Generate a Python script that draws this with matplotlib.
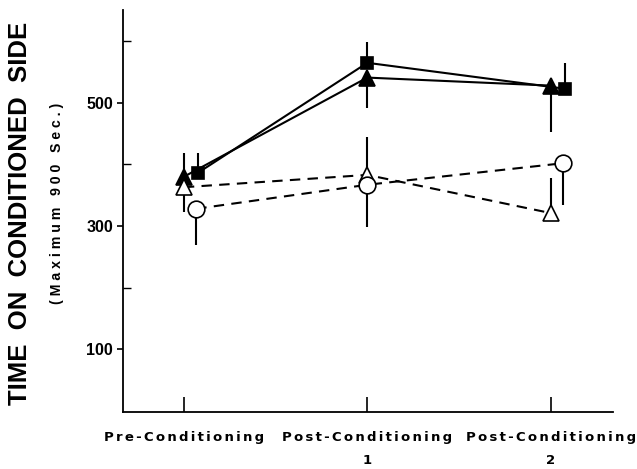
import numpy as np
import matplotlib.pyplot as plt

phases = ['Pre-Conditioning', 'Post-Conditioning\n1', 'Post-Conditioning\n2']

# mean time (sec) per group at each phase
filled_tri = [380, 541, 528]
filled_sq = [386, 565, 523]
open_tri = [363, 383, 321]
open_circ = [328, 367, 402]

# one-sided error bars (upper / lower)
filled_tri_up = [39, 0, 0]
filled_tri_dn = [0, 49, 76]
filled_sq_up = [33, 33, 42]
open_tri_up = [0, 62, 57]
open_tri_dn = [41, 0, 0]
open_circ_dn = [59, 68, 68]

plt.rcParams['font.family'] = ['Liberation Sans', 'DejaVu Sans']

fig = plt.figure(figsize=(6.37, 4.69), dpi=100)
ax = fig.add_axes([0.193, 0.1215, 0.769, 0.8575])

x = np.arange(len(phases))
shift = np.array([0.075, 0, 0.075])

def draw(xs, ys, up, dn, marker, fill, ls, ms):
    ys = np.array(ys)
    ax.errorbar(xs, ys, yerr=[dn, up], fmt='none', ecolor='black',
                elinewidth=1.5, capsize=0, zorder=2)
    line, = ax.plot(xs, ys, color='black', lw=1.5, ls=ls, marker=marker,
                    ms=ms, mfc=fill, mec='black', mew=1.2, zorder=3)
    if ls == '--':
        line.set_dashes([5, 3.5])

draw(x, filled_tri, filled_tri_up, filled_tri_dn, '^', 'black', '-', 11)
draw(x + shift, filled_sq, filled_sq_up, [0, 0, 0], 's', 'black', '-', 9)
draw(x, open_tri, open_tri_up, open_tri_dn, '^', 'white', '--', 11)
draw(x + shift * 0.9, open_circ, [0, 0, 0], open_circ_dn, 'o', 'white', '--', 12)

ax.set_xlim(-0.332, 2.338)
ax.set_ylim(-2, 651)

for s in ['top', 'right']:
    ax.spines[s].set_visible(False)
for s in ['left', 'bottom']:
    ax.spines[s].set_linewidth(1.3)

ax.set_yticks([100, 300, 500])
ax.set_yticklabels(['100', '300', '500'], fontsize=11.5, fontweight='bold')
ax.set_yticks([200, 400, 600], minor=True)
ax.tick_params(axis='y', which='major', direction='out', length=4, width=1.2, pad=3)
ax.tick_params(axis='y', which='minor', direction='in', length=6, width=1.0)


def spaced(s):
    # letter-spaced look of the original typesetting
    return '\n'.join('\u2006'.join(line) for line in s.split('\n'))


ax.set_xticks(x)
ax.set_xticklabels([spaced(p) for p in phases], fontsize=9.5, fontweight='bold',
                   linespacing=1.95, family='DejaVu Sans')
ax.tick_params(axis='x', direction='in', length=11, width=1.2, pad=14)

fig.text(0.031, 0.546, 'TIME  ON  CONDITIONED  SIDE', rotation=90,
         fontsize=18.5, fontweight='bold', ha='center', va='center')
fig.text(0.09, 0.567, '( M a x i m u m   9 0 0   S e c . )', rotation=90,
         fontsize=10.2, fontweight='bold', ha='center', va='center')

fig.savefig('out.png', dpi=100)
